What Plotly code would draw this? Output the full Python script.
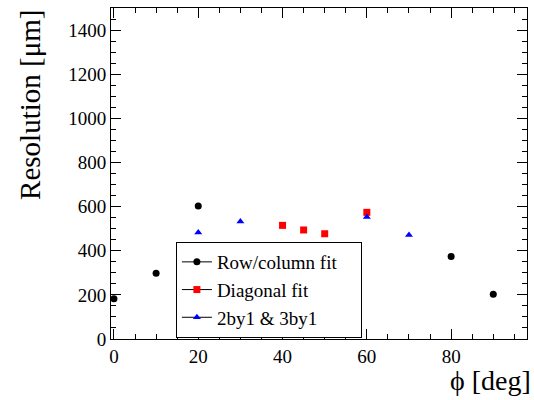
import plotly.graph_objects as go

phi_row = [0, 10, 20, 80, 90]
res_row = [182, 298, 603, 374, 203]
phi_diag = [40, 45, 50, 60]
res_diag = [515, 494, 477, 574]
phi_2by1 = [20, 30, 60, 70]
res_2by1 = [483, 533, 553, 471]

pad = "\u00a0" * 4
series = [
    ("Row/column fit" + pad, phi_row, res_row, "circle", "black", 7),
    ("Diagonal fit", phi_diag, res_diag, "square", "red", 7),
    ("2by1 &amp; 3by1", phi_2by1, res_2by1, "triangle-up", "blue", 7),
]

fig = go.Figure()
for name, xs, ys, sym, col, sz in series:
    fig.add_trace(go.Scatter(x=xs, y=ys, mode="markers", showlegend=False,
                             marker=dict(symbol=sym, color=col, size=sz)))
for name, xs, ys, sym, col, sz in series:
    fig.add_trace(go.Scatter(x=[None], y=[None], mode="lines+markers", name=name,
                             line=dict(color="black", width=1),
                             marker=dict(symbol=sym, color=col, size=sz)))

font = "Liberation Serif"
axis_common = dict(showline=True, linecolor="black", linewidth=1, mirror="ticks",
                   ticks="inside", ticklen=10, tickcolor="black", showgrid=False,
                   zeroline=False, tickfont=dict(family=font, size=19, color="black"))
fig.update_xaxes(range=[-0.7, 98], dtick=20, tick0=0,
                 minor=dict(ticks="inside", ticklen=5, dtick=5, tickcolor="black"),
                 **axis_common)
fig.update_yaxes(range=[0, 1500], dtick=200, tick0=0,
                 minor=dict(ticks="inside", ticklen=5, dtick=50, tickcolor="black"),
                 **axis_common)

fig.add_annotation(text="Resolution [μm]", textangle=-90, xref="paper", yref="paper",
                   x=-0.195, y=1.0, xanchor="center", yanchor="top", showarrow=False,
                   font=dict(family=font, size=29, color="black"))
fig.add_annotation(text="ϕ [deg]", xref="paper", yref="paper",
                   x=1.015, y=-0.125, xanchor="right", yanchor="middle", showarrow=False,
                   font=dict(family=font, size=28, color="black"))

fig.update_layout(
    width=534, height=400,
    margin=dict(l=111, r=7, t=8, b=61),
    plot_bgcolor="white", paper_bgcolor="white",
    font=dict(family=font, color="black"),
    legend=dict(x=0.156, y=0.293, xanchor="left", yanchor="top",
                bordercolor="black", borderwidth=1, bgcolor="white",
                font=dict(family=font, size=19, color="black")),
)
fig.write_html("out.html")
